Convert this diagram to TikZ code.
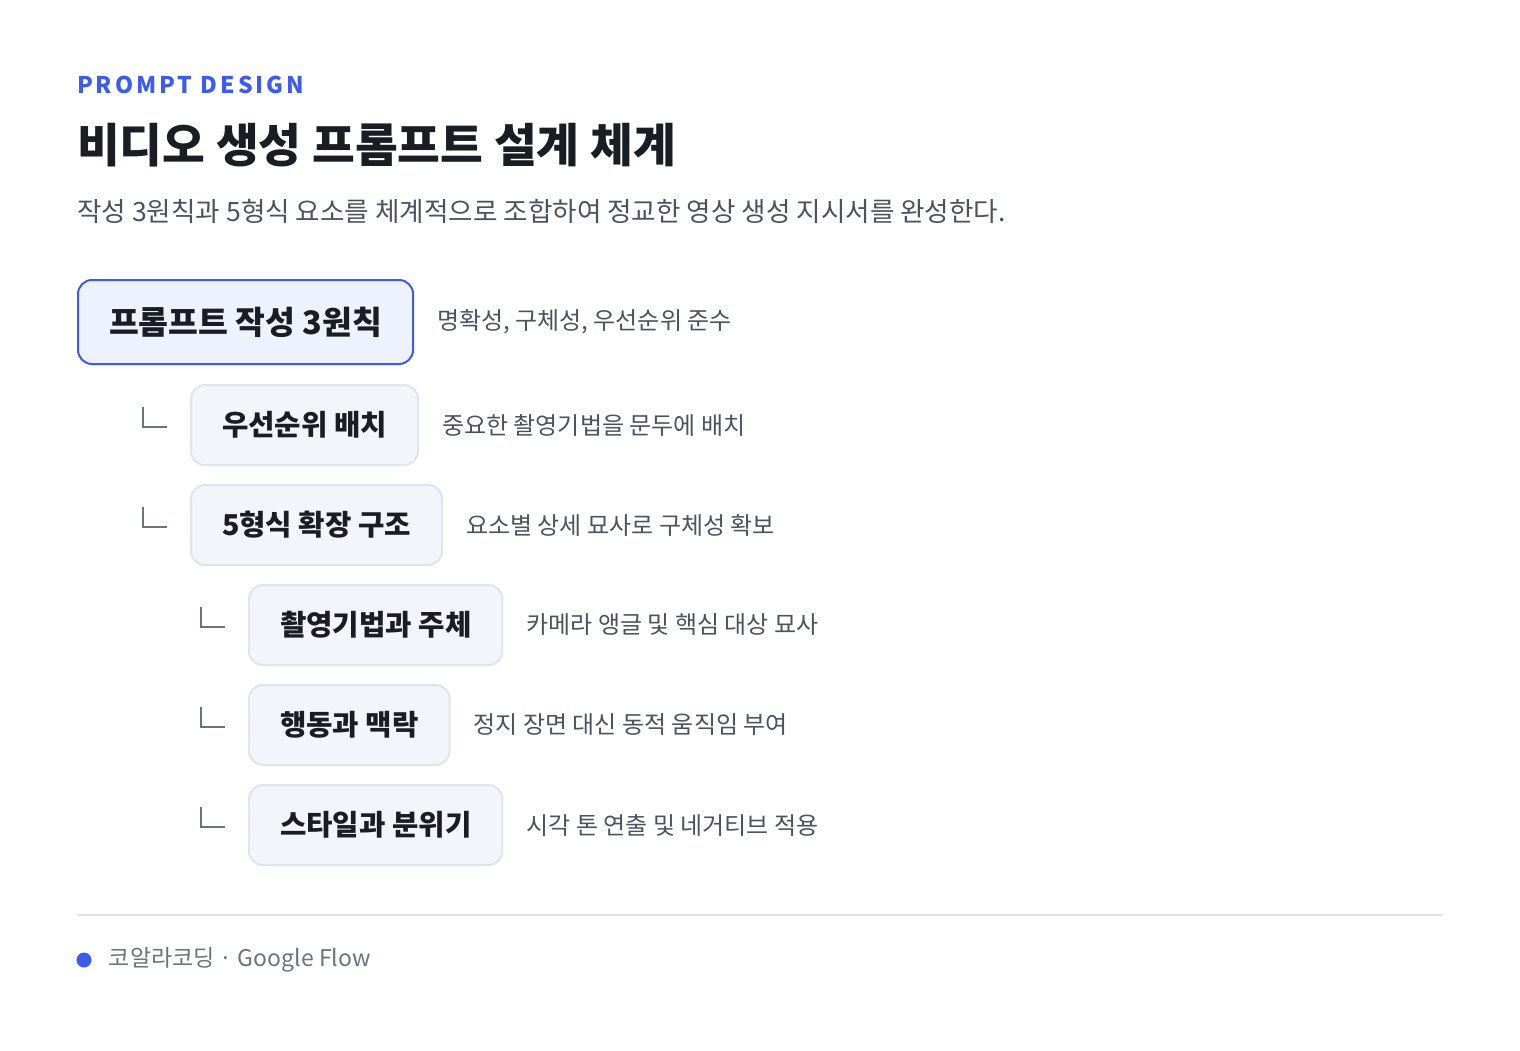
\documentclass[tikz,border=0pt]{standalone}
\usepackage{fontspec}
\setmainfont{Noto Sans CJK KR}
\newfontfamily\spaced[LetterSpace=13]{Noto Sans CJK KR}
\usetikzlibrary{positioning}

\definecolor{accent}{HTML}{3B5BF2}
\definecolor{ink}{HTML}{1B1D24}
\definecolor{muted}{HTML}{4B5261}
\definecolor{faint}{HTML}{6B7280}
\definecolor{boxfill}{HTML}{F4F5FA}
\definecolor{boxline}{HTML}{E1E4EE}
\definecolor{topfill}{HTML}{EEF1FE}

\tikzset{
  stepnode/.style={draw=boxline, fill=boxfill, rounded corners=14pt, line width=2pt,
    minimum height=80pt, inner xsep=31pt, anchor=west, text=ink,
    font=\fontsize{28.7}{34}\selectfont\bfseries},
  topnode/.style={stepnode, draw=accent, fill=topfill, minimum height=84pt,
    font=\fontsize{32.4}{38}\selectfont\bfseries},
  note/.style={text=muted, font=\fontsize{24}{29}\selectfont, inner sep=0pt},
  elbow/.style={draw=faint, line width=2pt}
}

\begin{document}
\begin{tikzpicture}[x=1pt, y=-1pt]
  \useasboundingbox[fill=white] (0,0) rectangle (1520,1051);

  % heading
  \node[anchor=base west, inner sep=0pt, text=accent, font=\fontsize{23}{28}\selectfont\spaced\bfseries] (kicker) at (77,94) {PROMPT DESIGN};
  \node[anchor=base west, inner sep=0pt, text=ink, font=\fontsize{46.5}{54}\selectfont\bfseries] (title) at (77,163) {비디오 생성 프롬프트 설계 체계};
  \node[anchor=base west, inner sep=0pt, text=muted, font=\fontsize{26.6}{31}\selectfont] (lead) at (77,222) {작성 3원칙과 5형식 요소를 체계적으로 조합하여 정교한 영상 생성 지시서를 완성한다.};

  % tree
  \node[topnode] (principles) at (77,322) {프롬프트 작성 3원칙};
  \node[note, right=23pt of principles] (principlesnote) {명확성, 구체성, 우선순위 준수};

  \node[stepnode] (order) at (190,425) {우선순위 배치};
  \node[note, right=23pt of order] (ordernote) {중요한 촬영기법을 문두에 배치};

  \node[stepnode] (form) at (190,525) {5형식 확장 구조};
  \node[note, right=23pt of form] (formnote) {요소별 상세 묘사로 구체성 확보};

  \node[stepnode] (camera) at (248,625) {촬영기법과 주체};
  \node[note, right=23pt of camera] (cameranote) {카메라 앵글 및 핵심 대상 묘사};

  \node[stepnode] (action) at (248,725) {행동과 맥락};
  \node[note, right=23pt of action] (actionnote) {정지 장면 대신 동적 움직임 부여};

  \node[stepnode] (style) at (248,825) {스타일과 분위기};
  \node[note, right=23pt of style] (stylenote) {시각 톤 연출 및 네거티브 적용};

  \foreach \n in {order, form, camera, action, style}
    \draw[elbow] ([xshift=-47pt, yshift=18pt]\n.west) |- ([xshift=-23pt, yshift=-2pt]\n.west);

  % footer
  \draw[draw=boxline, line width=2pt] (77,915) -- (1443,915);
  \node[circle, fill=accent, minimum size=15pt, inner sep=0pt] (dot) at (84,960) {};
  \node[right=17pt of dot, inner sep=0pt, text=faint, font=\fontsize{23}{28}\selectfont] (credit) {코알라코딩 · Google Flow};
\end{tikzpicture}
\end{document}
